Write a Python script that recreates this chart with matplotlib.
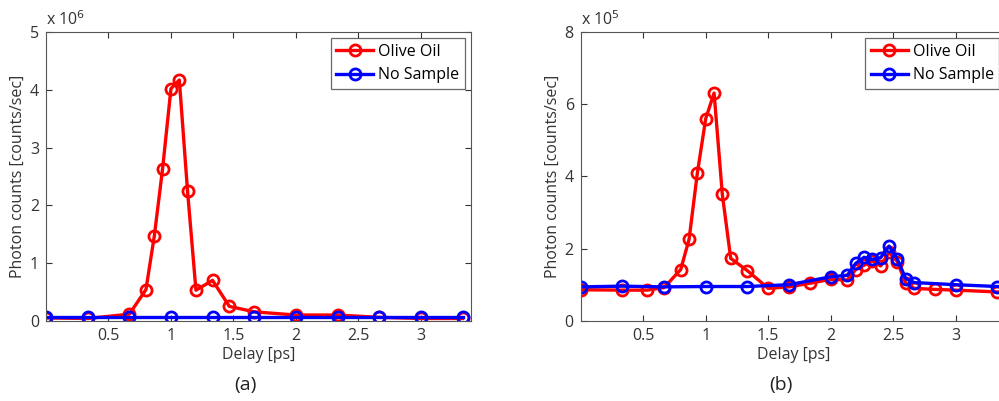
import numpy as np
import matplotlib.pyplot as plt

plt.rcParams['font.family'] = ['Open Sans', 'DejaVu Sans']

# panel (a): counts in units of 1e6
a_oil_x = [0, 0.333, 0.667, 0.8, 0.867, 0.933, 1.0, 1.067, 1.133, 1.2, 1.333,
           1.467, 1.667, 2.0, 2.333, 2.667, 3.0, 3.333]
a_oil_y = [0.05, 0.04, 0.115, 0.54, 1.47, 2.63, 4.02, 4.17, 2.24, 0.53, 0.70,
           0.25, 0.155, 0.10, 0.10, 0.06, 0.04, 0.04]
a_none_x = [0, 0.333, 0.667, 1.0, 1.333, 1.667, 2.0, 2.333, 2.667, 3.0, 3.333]
a_none_y = [0.07, 0.07, 0.07, 0.07, 0.07, 0.07, 0.07, 0.07, 0.07, 0.07, 0.07]

# panel (b): counts in units of 1e5
b_oil_x = [0, 0.333, 0.533, 0.667, 0.8, 0.867, 0.933, 1.0, 1.067, 1.133, 1.2,
           1.333, 1.5, 1.667, 1.833, 2.0, 2.133, 2.2, 2.267, 2.333, 2.4, 2.467,
           2.533, 2.6, 2.667, 2.833, 3.0, 3.333]
b_oil_y = [0.86, 0.85, 0.85, 0.92, 1.42, 2.26, 4.09, 5.6, 6.31, 3.5, 1.73,
           1.39, 0.9, 0.94, 1.04, 1.15, 1.13, 1.42, 1.54, 1.66, 1.52, 1.9,
           1.64, 1.04, 0.9, 0.87, 0.85, 0.80]
b_none_x = [0, 0.333, 0.667, 1.0, 1.333, 1.667, 2.0, 2.133, 2.2, 2.267, 2.333,
            2.4, 2.467, 2.533, 2.6, 2.667, 3.0, 3.333]
b_none_y = [0.94, 0.96, 0.94, 0.95, 0.95, 1.0, 1.22, 1.26, 1.59, 1.76, 1.70,
            1.75, 2.07, 1.71, 1.17, 1.06, 1.0, 0.95]

a_yticks = [0, 1, 2, 3, 4, 5]
b_yticks = [0, 2, 4, 6, 8]
xticks = [0.5, 1, 1.5, 2, 2.5, 3]
xtick_labels = ['0.5', '1', '1.5', '2', '2.5', '3']

fs = 11.5

fig = plt.figure(figsize=(9.99, 4.01), dpi=100)
ax1 = fig.add_axes([0.046, 0.2, 0.4254, 0.72])
ax2 = fig.add_axes([0.5813, 0.2, 0.4254, 0.72])

panels = [
    (ax1, a_oil_x, a_oil_y, a_none_x, a_none_y, a_yticks, 5, '6', '(a)'),
    (ax2, b_oil_x, b_oil_y, b_none_x, b_none_y, b_yticks, 8, '5', '(b)'),
]

for ax, ox, oy, nx, ny, yt, ymax, expo, tag in panels:
    style = dict(lw=2.4, marker='o', ms=8, mfc='none', mew=2.0)
    ax.plot(ox, oy, color='#ff0000', label='Olive Oil', **style)
    ax.plot(nx, ny, color='#0000ff', label='No Sample', **style)
    ax.set_xlim(0, 3.4)
    ax.set_ylim(0, ymax)
    ax.set_xticks(xticks)
    ax.set_xticklabels(xtick_labels)
    ax.set_yticks(yt)
    ax.tick_params(direction='in', top=True, right=True, length=4,
                   labelsize=fs, colors='#333333', pad=5)
    for s in ax.spines.values():
        s.set_color('#555555')
        s.set_linewidth(0.8)
    ax.set_xlabel('Delay [ps]', fontsize=fs, color='#333333', labelpad=2)
    ax.set_ylabel('Photon counts [counts/sec]', fontsize=fs, color='#333333',
                  labelpad=3)
    ax.text(0.0, 1.012, r'x 10$^{%s}$' % expo, transform=ax.transAxes,
            fontsize=fs, color='#333333', va='bottom', ha='left')
    ax.text(0.47, -0.19, tag, transform=ax.transAxes, fontsize=14,
            color='#222222', ha='center', va='top')
    leg = ax.legend(loc='upper right', fontsize=fs, fancybox=False,
                    handlelength=2.3, handletextpad=0.3, borderaxespad=0.4,
                    labelspacing=0.45, borderpad=0.35)
    leg.get_frame().set_edgecolor('#444444')
    leg.get_frame().set_linewidth(0.9)

fig.savefig('out.png', dpi=100)
